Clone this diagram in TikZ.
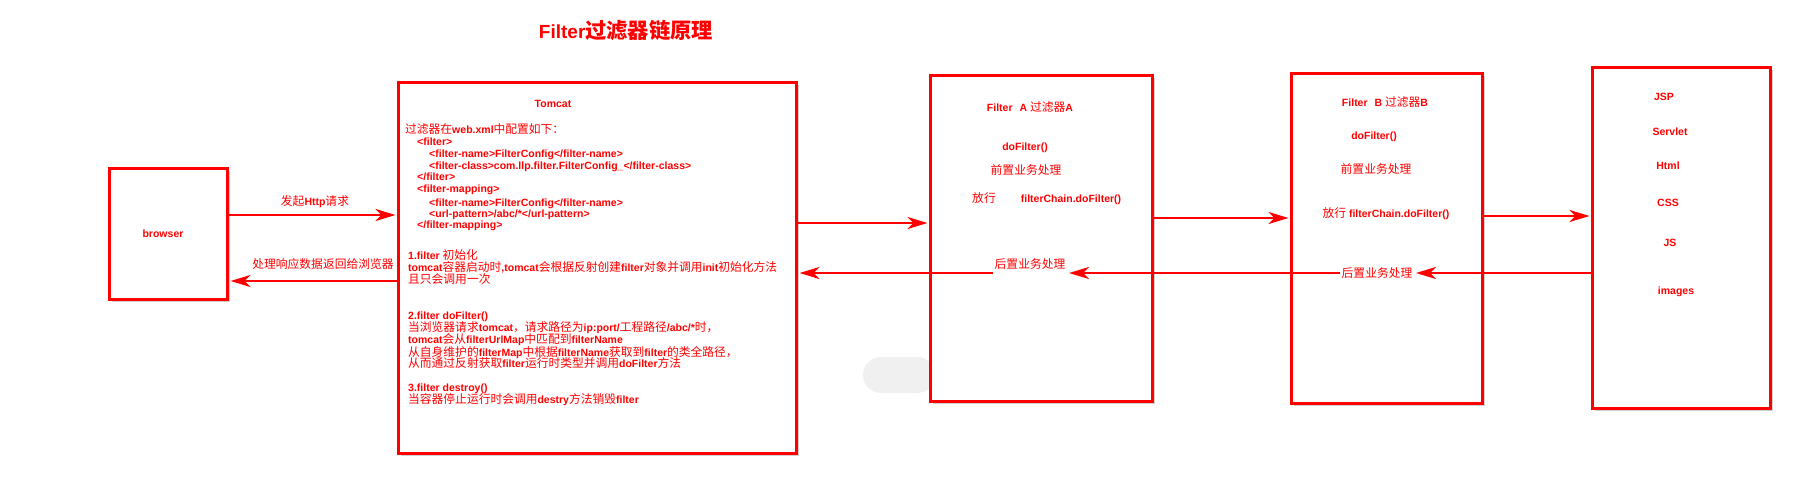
\documentclass[tikz,border=0pt]{standalone}
\usepackage{fontspec}
\setmainfont{Liberation Sans}
\newfontfamily\cjkfont{Noto Sans CJK SC}[Scale=1.12]
\usetikzlibrary{arrows.meta,shadows}
\XeTeXinterchartokenstate=1
\newXeTeXintercharclass\cjkcls
\newcount\cjkc
\def\setcls#1#2#3{\cjkc=#1\relax\loop\XeTeXcharclass\cjkc=#3\relax\ifnum\cjkc<#2\relax\advance\cjkc by 1\repeat}
\setcls{"21}{"7E}{0}
\setcls{"3000}{"303F}{\cjkcls}
\setcls{"4E00}{"9FFF}{\cjkcls}
\setcls{"FF00}{"FFEF}{\cjkcls}
\def\cjkw{\mdseries}
\XeTeXinterchartoks 0 \cjkcls = {\begingroup\cjkfont\cjkw}
\XeTeXinterchartoks 4095 \cjkcls = {\begingroup\cjkfont\cjkw}
\XeTeXinterchartoks \cjkcls 0 = {\endgroup}
\XeTeXinterchartoks \cjkcls 4095 = {\endgroup}
\definecolor{red0}{HTML}{FF0000}
\tikzset{
  box/.style={draw=red0, line width=3pt, fill=white, inner sep=0pt, anchor=north west,
    drop shadow={shadow xshift=2.5pt, shadow yshift=-2.5pt, fill=black!40, opacity=0.45}},
  txt/.style={text=red0, font=\fontsize{10.5}{12}\selectfont\bfseries, inner sep=0pt},
  ttlstyle/.style={text=red0, font={\def\cjkw{\bfseries}\fontsize{19}{22}\selectfont\bfseries}, inner sep=0pt},
  arr/.style={draw=red0, line width=2.5pt, -{Stealth[length=20pt,width=12pt,inset=6pt]}, shorten >=1.5pt}
}
\begin{document}
\begin{tikzpicture}[x=1pt,y=-1pt]
\fill[white] (0,0) rectangle (1808,484);
\useasboundingbox (0,0) rectangle (1808,484);
% faint pill
\fill[black!6, rounded corners=18pt] (863,357) rectangle (935,393);
% boxes
\node[box, minimum width=118pt, minimum height=131pt] (browser) at (108,167) {};
\node[box, minimum width=398pt, minimum height=371pt] (tomcat) at (397,81) {};
\node[box, minimum width=222pt, minimum height=326pt] (fa) at (929,74) {};
\node[box, minimum width=191pt, minimum height=330pt] (fb) at (1290,72) {};
\node[box, minimum width=178pt, minimum height=341pt] (fin) at (1591,66) {};
% title
\node[ttlstyle, anchor=base] (ttl) at (626,39) {Filter过滤器链原理};
% browser
\node[txt, anchor=base] (brt) at (163,237) {browser};
\node[txt, anchor=base] (l1) at (315,205) {发起Http请求};
\node[txt, anchor=base] (l2) at (323,268) {处理响应数据返回给浏览器};
% tomcat
\node[txt, anchor=base] (tct) at (553,108) {Tomcat};
\node[txt, anchor=base west] (x1) at (405,134) {过滤器在web.xml中配置如下：};
\node[txt, anchor=base west] (x2) at (417,146) {<filter>};
\node[txt, anchor=base west] (x3) at (429,158) {<filter-name>FilterConfig</filter-name>};
\node[txt, anchor=base west] (x4) at (429,170) {<filter-class>com.llp.filter.FilterConfig\_</filter-class>};
\node[txt, anchor=base west] (x5) at (417,181) {</filter>};
\node[txt, anchor=base west] (x6) at (417,193) {<filter-mapping>};
\node[txt, anchor=base west] (x7) at (429,206) {<filter-name>FilterConfig</filter-name>};
\node[txt, anchor=base west] (x8) at (429,217) {<url-pattern>/abc/*</url-pattern>};
\node[txt, anchor=base west] (x9) at (417,229) {</filter-mapping>};
\node[txt, anchor=base west] (s1a) at (408,259) {1.filter 初始化};
\node[txt, anchor=base west] (s1b) at (408,271) {tomcat容器启动时,tomcat会根据反射创建filter对象并调用init初始化方法};
\node[txt, anchor=base west] (s1c) at (408,283) {且只会调用一次};
\node[txt, anchor=base west] (s2a) at (408,319) {2.filter doFilter()};
\node[txt, anchor=base west] (s2b) at (408,331) {当浏览器请求tomcat，请求路径为ip:port/工程路径/abc/*时，};
\node[txt, anchor=base west] (s2c) at (408,343) {tomcat会从filterUrlMap中匹配到filterName};
\node[txt, anchor=base west] (s2d) at (408,356) {从自身维护的filterMap中根据filterName获取到filter的类全路径，};
\node[txt, anchor=base west] (s2e) at (408,367) {从而通过反射获取filter运行时类型并调用doFilter方法};
\node[txt, anchor=base west] (s3a) at (408,391) {3.filter destroy()};
\node[txt, anchor=base west] (s3b) at (408,403) {当容器停止运行时会调用destry方法销毁filter};
% filter A
\node[txt, anchor=base] (fa1) at (1030,112) {Filter\hspace{7pt}A 过滤器A};
\node[txt, anchor=base] (fa2) at (1025,151) {doFilter()};
\node[txt, anchor=base] (fa3) at (1026,175) {前置业务处理};
\node[txt, anchor=base] (fa4) at (984,202) {放行};
\node[txt, anchor=base] (fa5) at (1071,202) {filterChain.doFilter()};
\node[txt, anchor=base, inner sep=2pt] (la) at (1030,268) {后置业务处理};
% filter B
\node[txt, anchor=base] (fb1) at (1385,107) {Filter\hspace{7pt}B 过滤器B};
\node[txt, anchor=base] (fb2) at (1374,140) {doFilter()};
\node[txt, anchor=base] (fb3) at (1376,174) {前置业务处理};
\node[txt, anchor=base] (fb4) at (1386,217) {放行 filterChain.doFilter()};
\node[txt, anchor=base, inner sep=2pt] (lb) at (1377,277) {后置业务处理};
% final
\node[txt, anchor=base] (r1) at (1664,101) {JSP};
\node[txt, anchor=base] (r2) at (1670,136) {Servlet};
\node[txt, anchor=base] (r3) at (1668,170) {Html};
\node[txt, anchor=base] (r4) at (1668,207) {CSS};
\node[txt, anchor=base] (r5) at (1670,246) {JS};
\node[txt, anchor=base] (r6) at (1676,294) {images};
% connectors
\coordinate (y1) at (0,215);
\coordinate (y2) at (0,281);
\coordinate (y3) at (0,223);
\coordinate (y4) at (0,218);
\coordinate (y5) at (0,216);
\coordinate (y6) at (0,273);
\draw[arr] (browser.east |- y1) -- (tomcat.west |- y1);
\draw[arr] (tomcat.west |- y2) -- (browser.east |- y2);
\draw[arr] (tomcat.east |- y3) -- (fa.west |- y3);
\draw[arr] (fa.east |- y4) -- (fb.west |- y4);
\draw[arr] (fb.east |- y5) -- (fin.west |- y5);
\draw[arr] (fin.west |- y6) -- (lb.east |- y6);
\draw[arr] (lb.west |- y6) -- (la.east |- y6);
\draw[arr] (la.west |- y6) -- (tomcat.east |- y6);
\end{tikzpicture}
\end{document}
